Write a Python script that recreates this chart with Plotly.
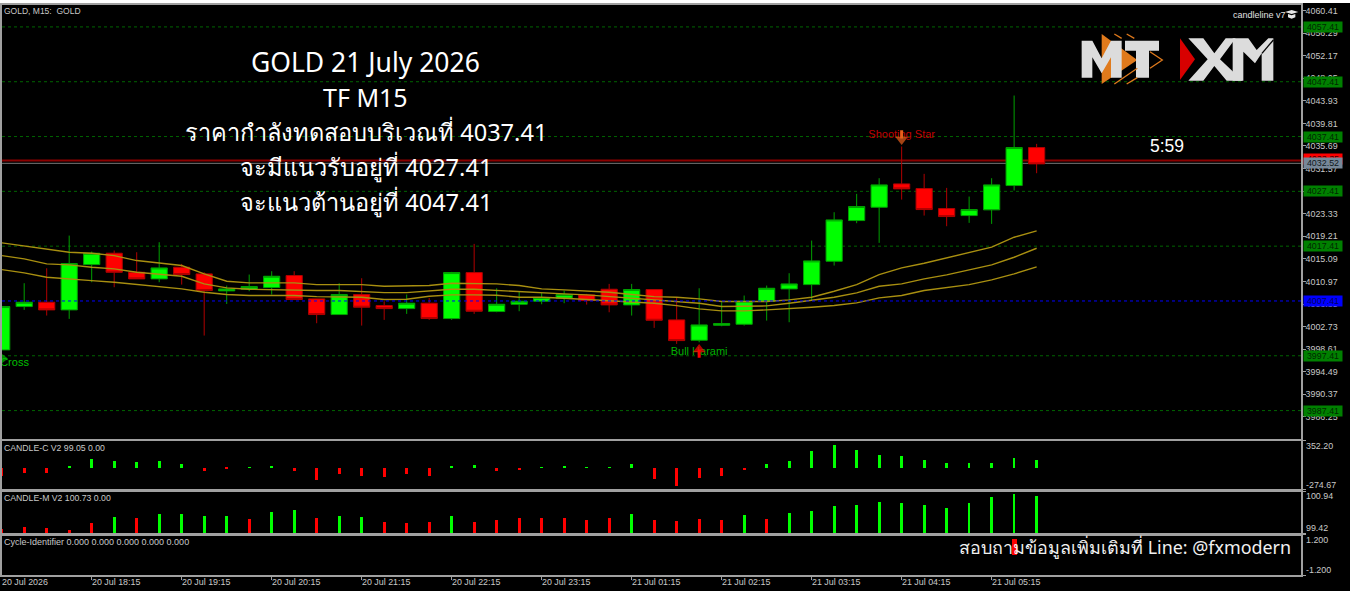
import plotly.graph_objects as go
from plotly.subplots import make_subplots

W, H = 1350, 595

# === Data ===
opens = [3998.48, 4006.39, 4007.18, 4005.78, 4014.05, 4016.12, 4012.65, 4011.44, 4013.57, 4012.35,
         4009.25, 4009.55, 4009.86, 4012.05, 4007.79, 4004.93, 4008.58, 4006.57, 4006.02, 4007.00,
         4004.20, 4012.59, 4005.48, 4006.81, 4007.36, 4007.91, 4008.52, 4009.55, 4006.69, 4009.49,
         4003.96, 4000.24, 4002.98, 4003.16, 4007.36, 4009.61, 4010.40, 4014.66, 4022.08, 4024.51,
         4028.77, 4027.92, 4024.27, 4022.99, 4024.03, 4028.47, 4035.40]
closes = [4006.39, 4007.18, 4005.78, 4014.23, 4016.12, 4012.65, 4011.44, 4013.44, 4012.23, 4009.31,
          4009.61, 4010.04, 4011.92, 4007.67, 4004.93, 4008.58, 4006.27, 4006.02, 4007.00, 4004.20,
          4012.59, 4005.54, 4006.81, 4007.36, 4008.03, 4008.58, 4007.48, 4006.69, 4009.49, 4003.89,
          4000.18, 4003.04, 4003.29, 4007.36, 4009.73, 4010.52, 4014.72, 4022.20, 4024.64, 4028.59,
          4027.86, 4024.09, 4022.81, 4024.09, 4028.59, 4035.40, 4032.42]
highs = [4006.39, 4010.65, 4013.38, 4019.34, 4016.42, 4016.61, 4016.30, 4018.13, 4014.17, 4012.65,
         4010.22, 4012.23, 4012.84, 4012.84, 4007.79, 4010.65, 4011.56, 4007.36, 4008.58, 4007.97,
         4012.71, 4017.82, 4009.73, 4009.13, 4008.88, 4009.31, 4008.70, 4010.52, 4010.52, 4009.49,
         4008.09, 4009.73, 4007.18, 4008.40, 4010.22, 4012.47, 4018.43, 4023.60, 4026.95, 4029.81,
         4035.59, 4030.60, 4028.04, 4026.46, 4029.81, 4044.89, 4036.07]
lows = [3998.48, 4005.78, 4004.75, 4004.14, 4010.83, 4009.92, 4011.44, 4010.83, 4010.40, 4001.10,
        4006.87, 4009.19, 4008.58, 4007.67, 4003.35, 4004.93, 4002.92, 4003.96, 4005.05, 4003.96,
        4003.96, 4005.05, 4005.35, 4005.54, 4006.81, 4007.00, 4006.75, 4005.35, 4004.75, 4002.50,
        3999.58, 3999.88, 4002.80, 4002.92, 4003.83, 4003.53, 4007.48, 4013.87, 4021.60, 4018.01,
        4025.91, 4022.99, 4021.05, 4021.66, 4021.47, 4027.56, 4030.72]

ma_upper = [4018.01, 4017.40, 4016.79, 4016.30, 4016.12, 4015.69, 4014.78, 4014.36, 4013.87, 4012.35,
            4011.01, 4010.71, 4010.71, 4010.71, 4010.40, 4010.40, 4010.40, 4010.10, 4010.10, 4010.22,
            4010.65, 4010.52, 4010.52, 4010.22, 4009.61, 4009.43, 4009.19, 4009.00, 4008.58, 4008.21,
            4008.09, 4007.79, 4007.30, 4007.30, 4007.30, 4007.60, 4008.09, 4009.19, 4010.40, 4012.23,
            4013.44, 4014.30, 4015.27, 4016.12, 4017.22, 4019.04, 4020.20]
ma_middle = [4015.69, 4015.09, 4014.17, 4013.99, 4013.57, 4013.26, 4012.65, 4012.23, 4011.92, 4010.52,
             4009.79, 4009.55, 4009.43, 4009.43, 4009.31, 4009.31, 4009.13, 4008.94, 4008.94, 4009.19,
             4009.55, 4009.55, 4009.31, 4009.13, 4008.88, 4008.70, 4008.52, 4008.21, 4007.91, 4007.67,
             4007.36, 4007.00, 4006.39, 4006.39, 4006.51, 4007.00, 4007.48, 4008.09, 4008.88, 4010.10,
             4010.52, 4011.44, 4012.17, 4013.08, 4013.99, 4015.39, 4017.03]
ma_lower = [4013.14, 4012.53, 4011.74, 4011.38, 4011.13, 4010.83, 4010.40, 4009.92, 4009.61, 4009.00,
            4008.58, 4008.40, 4008.40, 4008.40, 4008.21, 4008.21, 4008.09, 4007.67, 4007.73, 4008.27,
            4008.52, 4008.52, 4008.46, 4008.09, 4008.09, 4007.91, 4007.67, 4007.48, 4007.30, 4007.00,
            4006.57, 4005.96, 4005.60, 4005.60, 4005.78, 4005.96, 4006.27, 4006.57, 4007.06, 4007.97,
            4008.40, 4009.31, 4009.79, 4010.40, 4011.25, 4012.35, 4013.63]

candle_c = [-118, -72, -72, 26, 131, 105, 98, 105, 54, -49, -18, 13, 26, -46, -190, -100, -123, -134, -90, -123,
            28, 38, -46, -36, 10, 26, 10, 13, 54, -170, -274.67, -150, -118, -36, 54, 105, 267, 352.2, 280, 203,
            183, 116, 80, 75, 80, 147, 116]
candle_m = [99.58, 99.67, 99.62, 99.55, 99.81, 100.06, 100.03, 100.17, 100.17, 100.08, 100.08, 99.98, 100.23,
            100.30, 100.03, 100.08, 100.06, 99.84, 99.81, 99.84, 100.08, 99.84, 99.93, 100.00, 100.00, 100.03,
            99.95, 100.03, 100.17, 99.93, 99.90, 99.98, 99.95, 100.13, 99.98, 100.20, 100.28, 100.45, 100.50,
            100.62, 100.60, 100.52, 100.41, 100.60, 100.82, 100.94, 100.86]
m_rising = [0, 0, 0, 0, 0, 1, 0, 1, 1, 1, 1, 0, 1, 1, 0, 1, 1, 0, 0, 0, 1, 0, 0, 0, 0, 0, 0, 0, 1, 0, 0, 0, 0,
            1, 0, 1, 1, 1, 1, 1, 1, 1, 1, 1, 1, 1, 1]
cycle_bar = 45
cycle_value = 1.2

level_prices = [4057.41, 4047.41, 4037.41, 4027.41, 4017.41, 3997.41, 3987.41]
blue_level = 4007.41
ask_line = 4033.05
bid_line = 4032.52
price_ticks = [4060.41, 4056.29, 4052.17, 4048.05, 4043.93, 4039.81, 4035.69, 4031.57, 4027.45, 4023.33,
               4019.21, 4015.09, 4010.97, 4006.85, 4002.73, 3998.61, 3994.49, 3990.37, 3986.25]
time_bars = [0, 4, 8, 12, 16, 20, 24, 28, 32, 36, 40, 44]
time_labels = ["20 Jul 2026", "20 Jul 18:15", "20 Jul 19:15", "20 Jul 20:15", "20 Jul 21:15", "20 Jul 22:15",
               "20 Jul 23:15", "21 Jul 01:15", "21 Jul 02:15", "21 Jul 03:15", "21 Jul 04:15", "21 Jul 05:15"]
headline = ["GOLD 21 July 2026", "TF M15", "ราคากำลังทดสอบบริเวณที่ 4037.41",
            "จะมีแนวรับอยู่ที่ 4027.41", "จะแนวต้านอยู่ที่ 4047.41"]

bars = list(range(len(opens)))

GREEN, RED = "#00ff00", "#ff0000"
GREY = "#a0a0a0"
TXT = "#c8c8c8"
SMALL = "Liberation Sans"
TICK = 8.9


def px(x):
    return x / W


def py(y):
    return 1 - y / H


def poly(points, color, x0, y0, k=3.0):
    # points are in zoomed pixels, same scale as the logo crops
    path = "M" + " L".join(f"{px(x0 + a / k):.5f},{py(y0 + b / k):.5f}" for a, b in points) + " Z"
    return dict(type="path", xref="paper", yref="paper", path=path, fillcolor=color,
                line=dict(width=0), layer="above")


def stroke(points, color, x0, y0, k=3.0):
    path = "M" + " L".join(f"{px(x0 + a / k):.5f},{py(y0 + b / k):.5f}" for a, b in points)
    return dict(type="path", xref="paper", yref="paper", path=path,
                line=dict(color=color, width=1.3), layer="above")


# === Figure ===
fig = make_subplots(rows=4, cols=1, shared_xaxes=True, vertical_spacing=0.01)

fig.add_trace(go.Candlestick(
    x=bars, open=opens, high=highs, low=lows, close=closes, whiskerwidth=0,
    increasing=dict(line=dict(color="#00a000", width=1), fillcolor=GREEN),
    decreasing=dict(line=dict(color="#b00000", width=1), fillcolor=RED),
    showlegend=False), row=1, col=1)

for ma in [ma_upper, ma_middle, ma_lower]:
    fig.add_trace(go.Scatter(x=bars, y=ma, mode="lines", showlegend=False,
                             line=dict(color="#a88f10", width=1.4)), row=1, col=1)

# Pattern labels, text first so the arrows sit on top of it
fig.add_trace(go.Scatter(x=[40, 31, 0.57], y=[4037.57, 3998.1, 3995.99], mode="text",
                         text=["Shooting Star", "Bull Harami", "Cross"], showlegend=False,
                         textfont=dict(family=SMALL, size=11, color=["#c00000", "#00b000", "#00c000"])),
              row=1, col=1)
# arrow heads and their stems
fig.add_trace(go.Scatter(x=[40, 31, 0.1], y=[4036.86, 3998.54, 3996.9], mode="markers", showlegend=False,
                         marker=dict(symbol=["triangle-down", "triangle-up", "triangle-right"], size=[11, 11, 8],
                                     color=["#e8601c", "#ff0000", "#00c000"], line=dict(width=0))),
              row=1, col=1)
fig.add_trace(go.Scatter(x=[40], y=[4037.8], mode="markers", showlegend=False,
                         marker=dict(symbol="line-ns", size=6, line=dict(color="#e8601c", width=3))),
              row=1, col=1)
fig.add_trace(go.Scatter(x=[31], y=[3997.8], mode="markers", showlegend=False,
                         marker=dict(symbol="line-ns", size=6, line=dict(color="#ff0000", width=3))),
              row=1, col=1)

fig.add_trace(go.Bar(x=bars, y=candle_c, width=0.12, showlegend=False,
                     marker=dict(color=[GREEN if v > 0 else RED for v in candle_c], line=dict(width=0))),
              row=2, col=1)
fig.add_trace(go.Bar(x=bars, y=candle_m, width=0.12, showlegend=False,
                     marker=dict(color=[GREEN if r else RED for r in m_rising], line=dict(width=0))),
              row=3, col=1)
fig.add_trace(go.Bar(x=[cycle_bar], y=[cycle_value], width=0.22, showlegend=False,
                     marker=dict(color=RED, line=dict(width=0))), row=4, col=1)

# === Lines across the main pane ===
shapes = []
for lv in level_prices:
    shapes.append(dict(type="line", xref="x domain", yref="y", x0=0, x1=1, y0=lv, y1=lv, layer="below",
                       line=dict(color="#006400", width=1, dash="dot")))
shapes.append(dict(type="line", xref="x domain", yref="y", x0=0, x1=1, y0=blue_level, y1=blue_level,
                   layer="above", line=dict(color="#0000ff", width=1, dash="dot")))
shapes.append(dict(type="line", xref="x domain", yref="y", x0=0, x1=1, y0=ask_line, y1=ask_line,
                   layer="below", line=dict(color="#8b0000", width=2)))
shapes.append(dict(type="line", xref="x domain", yref="y", x0=0, x1=1, y0=bid_line, y1=bid_line,
                   layer="below", line=dict(color="#777777", width=1)))

# white strips of the screenshot
shapes.append(dict(type="rect", xref="paper", yref="paper", x0=0, x1=1, y0=py(3), y1=1,
                   fillcolor="white", line=dict(width=0), layer="above"))
shapes.append(dict(type="rect", xref="paper", yref="paper", x0=0, x1=1, y0=0, y1=py(591),
                   fillcolor="white", line=dict(width=0), layer="above"))

# === Logo ===
ORANGE, LOGO = "#e07a1c", "#dcdcdc"
ox, oy = 1075, 30
shapes.append(poly([(80, 12), (187, 90), (80, 162)], ORANGE, ox, oy))
shapes.append(poly([(20, 32), (52, 32), (80, 85), (108, 32), (140, 32), (140, 143), (108, 143), (108, 82),
                    (80, 130), (52, 82), (52, 143), (20, 143)], LOGO, ox, oy))
shapes.append(poly([(150, 32), (252, 32), (252, 62), (222, 62), (222, 143), (183, 143), (183, 62), (150, 62)],
                   LOGO, ox, oy))
for seg in [[(118, 12), (140, 25)], [(155, 12), (178, 25)], [(225, 65), (262, 90), (225, 115)],
            [(118, 162), (187, 115)], [(155, 162), (187, 143)]]:
    shapes.append(stroke(seg, ORANGE, ox, oy))
xx, xy = 1060, 20
shapes.append(poly([(360, 55), (405, 118), (360, 180)], "#d80000", xx, xy))
shapes.append(poly([(518, 55), (565, 55), (590, 90), (625, 55), (640, 55), (640, 182), (605, 182), (605, 100),
                    (585, 130), (550, 95), (550, 182), (518, 182)], LOGO, xx, xy))
shapes.append(poly([(385, 55), (430, 55), (463, 100), (497, 55), (527, 55), (480, 118), (548, 182), (500, 182),
                    (463, 138), (430, 182), (385, 182), (443, 118)], LOGO, xx, xy))
shapes.append(stroke([(640, 60), (606, 100)], "black", xx, xy))

# graduation cap next to the "candleline v7" tag
shapes.append(poly([(0, 6), (20, 0), (40, 6), (20, 12)], "#e6e6e6", 1285, 10))
shapes.append(poly([(9, 12), (20, 16), (31, 12), (31, 22), (20, 26), (9, 22)], "#e6e6e6", 1285, 10))

# === Text ===
ann = []


def label(x, y, text, color=TXT, size=TICK, family=SMALL, xanchor="left"):
    ann.append(dict(xref="paper", yref="paper", x=px(x), y=py(y), text=text, showarrow=False, xanchor=xanchor,
                    yanchor="middle", align="left", font=dict(family=family, size=size, color=color),
                    borderpad=0))


label(365.5, 62, headline[0], color="white", size=26.5, family="Noto Sans", xanchor="center")
label(365.5, 97, headline[1], color="white", size=25, family="Noto Sans", xanchor="center")
label(365.5, 132, headline[2], color="white", size=23.6, family="Noto Sans", xanchor="center")
label(365.5, 167, headline[3], color="white", size=23.6, family="Noto Sans", xanchor="center")
label(365.5, 202, headline[4], color="white", size=23.6, family="Noto Sans", xanchor="center")

label(3, 11, "GOLD, M15:  GOLD", size=8.5)
label(1232, 15, "candleline v7", size=9, color="#e0e0e0")
label(1166.5, 146, "5:59", color="white", size=17.5, xanchor="center")
label(3, 448, "CANDLE-C V2 99.05 0.00", size=8.7)
label(3, 498, "CANDLE-M V2 100.73 0.00", size=8.7)
label(3, 542, "Cycle-Identifier 0.000 0.000 0.000 0.000 0.000", size=9)
label(958, 546.5, "สอบถามข้อมูลเพิ่มเติมที่ Line: @fxmodern", color="#f0f0f0", size=17.9, family="Noto Sans")

label(1305, 445.7, "352.20")
label(1305, 485, "-274.67")
label(1305, 496, "100.94")
label(1305, 528.3, "99.42")
label(1305, 539.7, "1.200")
label(1305, 570, "-1.200")

x_range = [0.0133, 57.75]
for bar, text in zip(time_bars, time_labels):
    ann.append(dict(xref="x4", yref="paper", x=max(bar, x_range[0]), y=py(582), text=text, showarrow=False,
                    xanchor="left", yanchor="middle", xshift=-1, borderpad=0,
                    font=dict(family=SMALL, size=TICK, color=TXT)))


def tag(price, bg, fg):
    ann.append(dict(xref="paper", yref="y", x=px(1303), y=price, text=f"{price:.2f}", showarrow=False,
                    xanchor="left", yanchor="middle", width=38, height=10, bgcolor=bg, borderpad=0,
                    font=dict(family=SMALL, size=TICK, color=fg)))


# price tags on the right axis
for lv in level_prices:
    tag(lv, "#008000", "#002800")
tag(blue_level, "#0000ff", "#000060")
tag(ask_line + 0.3, "#ff0000", "#400000")
tag(bid_line, "#778899", "#101820")

# === Layout ===
fig.update_layout(
    width=W, height=H, margin=dict(l=0, r=0, t=0, b=0), autosize=False,
    paper_bgcolor="black", plot_bgcolor="black", showlegend=False, hovermode=False,
    boxgap=0.28, boxgroupgap=0, bargap=0, shapes=shapes, annotations=ann,
    font=dict(family=SMALL, color=TXT, size=TICK),
)
dom_x = [px(2), px(1301)]
panes = [(5, 438.7), (440.7, 489.5), (491, 533.5), (534.8, 575)]
y_ranges = [[3982.28, 4061.41], [-336.5, 413.6], [99.42, 101.04], [-1.5, 1.5]]
for i, ((top, bottom), rng) in enumerate(zip(panes, y_ranges), start=1):
    fig.update_xaxes(row=i, col=1, domain=dom_x, range=x_range, showgrid=False, zeroline=False,
                     showline=True, mirror=True, linecolor=GREY, linewidth=1.5, rangeslider_visible=False,
                     ticks="", showticklabels=False)
    fig.update_yaxes(row=i, col=1, domain=[py(bottom), py(top)], range=rng, side="right", showgrid=False,
                     zeroline=False, showline=True, mirror=True, linecolor=GREY, linewidth=1.5,
                     ticks="outside", ticklen=3, tickcolor=GREY, showticklabels=False,
                     tickmode="array", tickvals=[rng[0], rng[1]])
fig.update_yaxes(row=1, col=1, tickvals=price_ticks, ticktext=[f"{p:.2f}" for p in price_ticks],
                 showticklabels=True, ticklabelstandoff=-2, tickfont=dict(family=SMALL, size=TICK, color=TXT))
fig.update_xaxes(row=4, col=1, ticks="outside", ticklen=3, tickcolor=GREY, tickmode="array", tickvals=time_bars)

fig.write_html("out.html", config=dict(displayModeBar=False),
               post_script="document.body.style.margin='0';document.body.style.overflow='hidden';")
